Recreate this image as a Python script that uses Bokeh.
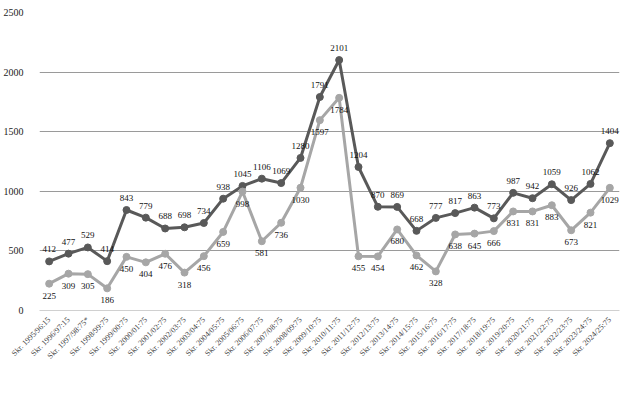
from bokeh.plotting import figure
from bokeh.models import ColumnDataSource, FactorRange, Range1d, LabelSet, Legend, LegendItem
from bokeh.embed import file_html
from bokeh.resources import INLINE
from bokeh.core.properties import value
import math

categories = ["Skr. 1995/96:15", "Skr. 1996/97:15", "Skr. 1997/98:75*", "Skr. 1998/99:75",
              "Skr. 1999/00:75", "Skr. 2000/01:75", "Skr. 2001/02:75", "Skr. 2002/03:75",
              "Skr. 2003/04:75", "Skr. 2004/05:75", "Skr. 2005/06:75", "Skr. 2006/07:75",
              "Skr. 2007/08:75", "Skr. 2008/09:75", "Skr. 2009/10:75", "Skr. 2010/11:75",
              "Skr. 2011/12:75", "Skr. 2012/13:75", "Skr. 2013/14:75", "Skr. 2014/15:75",
              "Skr. 2015/16:75", "Skr. 2016/17:75", "Skr. 2017/18:75", "Skr. 2018/19:75",
              "Skr. 2019/20:75", "Skr. 2020/21:75", "Skr. 2021/22:75", "Skr. 2022/23:75",
              "Skr. 2023/24:75", "Skr. 2024/25:75"]
medelvarde = [412, 477, 529, 414, 843, 779, 688, 698, 734, 938, 1045, 1106, 1069, 1280,
              1791, 2101, 1204, 870, 869, 668, 777, 817, 863, 773, 987, 942, 1059, 926,
              1062, 1404]
medianvarde = [225, 309, 305, 186, 450, 404, 476, 318, 456, 659, 998, 581, 736, 1030,
               1597, 1784, 455, 454, 680, 462, 328, 638, 645, 666, 831, 831, 883, 673,
               821, 1029]
y_ticks = [0, 500, 1000, 1500, 2000, 2500]

FONT = "Liberation Serif"
MEAN_C = "#595959"
MED_C = "#a6a6a6"

src = ColumnDataSource(dict(x=categories, mean=medelvarde, med=medianvarde,
                            mean_t=[str(v) for v in medelvarde],
                            med_t=[str(v) for v in medianvarde]))

p = figure(frame_width=580, frame_height=298, output_backend="svg", toolbar_location=None,
           x_range=FactorRange(*categories, range_padding=0),
           y_range=Range1d(0, 2500),
           min_border_left=38, min_border_right=17, min_border_top=12, min_border_bottom=80)
p.outline_line_color = None
p.background_fill_color = "white"

p.xgrid.grid_line_color = None
p.ygrid.grid_line_color = "#9a9a9a"
p.ygrid.grid_line_width = 1
p.yaxis.ticker = y_ticks
p.yaxis.axis_line_color = None
p.yaxis.major_tick_line_color = None
p.yaxis.minor_tick_line_color = None
p.yaxis.major_label_text_font = FONT
p.yaxis.major_label_text_font_size = "10px"
p.yaxis.major_label_text_color = "#222222"
p.yaxis.major_label_standoff = 10

p.xaxis.axis_line_color = "#d0d0d0"
p.xaxis.major_tick_line_color = None
p.xaxis.minor_tick_line_color = None
p.xaxis.major_label_orientation = math.pi / 4
p.xaxis.major_label_text_font = FONT
p.xaxis.major_label_text_font_size = "8px"
p.xaxis.major_label_text_color = "#444444"
p.xaxis.major_label_standoff = 2

l1 = p.line("x", "mean", source=src, line_color=MEAN_C, line_width=3)
c1 = p.scatter("x", "mean", source=src, size=7, fill_color=MEAN_C, line_color=MEAN_C)
l2 = p.line("x", "med", source=src, line_color=MED_C, line_width=3)
c2 = p.scatter("x", "med", source=src, size=7, fill_color=MED_C, line_color=MED_C)

lab1 = LabelSet(x="x", y="mean", text="mean_t", source=src, y_offset=9,
                text_align="center", text_baseline="bottom",
                text_font=value(FONT), text_font_size="9px", text_color="#111111")
lab2 = LabelSet(x="x", y="med", text="med_t", source=src, y_offset=-9,
                text_align="center", text_baseline="top",
                text_font=value(FONT), text_font_size="9px", text_color="#111111")
p.add_layout(lab1)
p.add_layout(lab2)

legend = Legend(items=[LegendItem(label="medelvärde", renderers=[l1, c1]),
                       LegendItem(label="medianvärde", renderers=[l2, c2])],
                orientation="horizontal", location=(202, -75),
                label_text_font=FONT, label_text_font_size="8px",
                label_text_color="#222222", glyph_width=22, glyph_height=10,
                spacing=24, padding=0, margin=0, border_line_color=None,
                background_fill_alpha=0, label_standoff=1)
p.add_layout(legend)

open("out.html", "w").write(file_html(p, INLINE))
